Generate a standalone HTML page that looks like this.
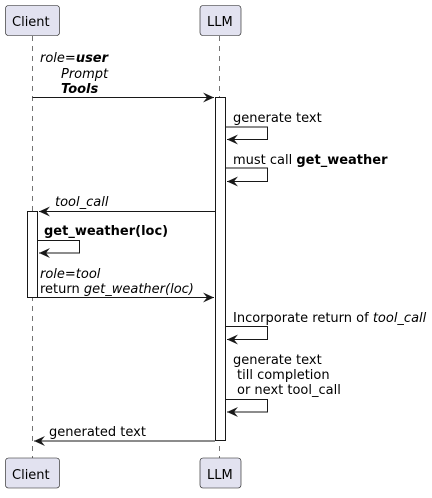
<!DOCTYPE html>
<html><head><style>body{margin:0;background:#fff}svg text{font-family:"DejaVu Sans","Liberation Sans",sans-serif;font-size:13px;fill:#000}</style></head><body>
<svg width="432" height="493" viewBox="0 0 432 493" xmlns="http://www.w3.org/2000/svg">
<defs><marker id="a" markerWidth="12" markerHeight="10" refX="11" refY="5" orient="auto" markerUnits="userSpaceOnUse"><path d="M0,0 L11,5 L0,10 L4,5 Z" fill="#181818"/></marker></defs>
<g stroke="#181818" stroke-width="0.6" stroke-dasharray="5,5"><line x1="32.5" y1="36" x2="32.5" y2="458"/><line x1="219.5" y1="36" x2="219.5" y2="458"/></g>
<g fill="#E2E2F0" stroke="#181818" stroke-width="0.6">
<rect x="5.5" y="5.5" width="54" height="30" rx="3"/><rect x="200" y="5.5" width="41" height="30" rx="3"/>
<rect x="5.5" y="458" width="54" height="30" rx="3"/><rect x="200" y="458" width="41" height="30" rx="3"/></g>
<text x="12" y="26">Client</text><text x="207" y="26">LLM</text>
<text x="12" y="479">Client</text><text x="207" y="479">LLM</text>
<g fill="#fff" stroke="#181818" stroke-width="1"><rect x="215.5" y="97.5" width="10" height="343"/><rect x="27.5" y="211.5" width="10" height="86"/></g>
<g stroke="#181818" stroke-width="1" fill="none" marker-end="url(#a)">
<line x1="32.5" y1="97.5" x2="214" y2="97.5"/>
<polyline points="225.5,127 267.5,127 267.5,139.5 227,139.5"/>
<polyline points="225.5,168 267.5,168 267.5,181.5 227,181.5"/>
<line x1="215" y1="211.5" x2="39" y2="211.5"/>
<polyline points="37.5,240.5 79.5,240.5 79.5,253 39,253"/>
<line x1="37.5" y1="297.5" x2="214" y2="297.5"/>
<polyline points="225.5,326.5 267.5,326.5 267.5,339.5 227,339.5"/>
<polyline points="225.5,399.5 267.5,399.5 267.5,412 227,412"/>
<line x1="215" y1="441" x2="34" y2="441"/>
</g>
<text x="40" y="62" font-style="italic">role=<tspan font-weight="bold">user</tspan></text>
<text x="61" y="78" font-style="italic">Prompt</text>
<text x="61" y="93" font-style="italic" font-weight="bold">Tools</text>
<text x="233" y="122">generate text</text>
<text x="233" y="164">must call <tspan font-weight="bold">get_weather</tspan></text>
<text x="55" y="206" font-style="italic">tool_call</text>
<text x="44" y="235" font-weight="bold">get_weather(loc)</text>
<text x="40" y="278" font-style="italic">role=tool</text>
<text x="40" y="293">return <tspan font-style="italic">get_weather(loc)</tspan></text>
<text x="233" y="322">Incorporate return of <tspan font-style="italic">tool_call</tspan></text>
<text x="233" y="364">generate text</text>
<text x="237" y="379">till completion</text>
<text x="237" y="394">or next tool_call</text>
<text x="49" y="436">generated text</text>
</svg>
</body></html>
